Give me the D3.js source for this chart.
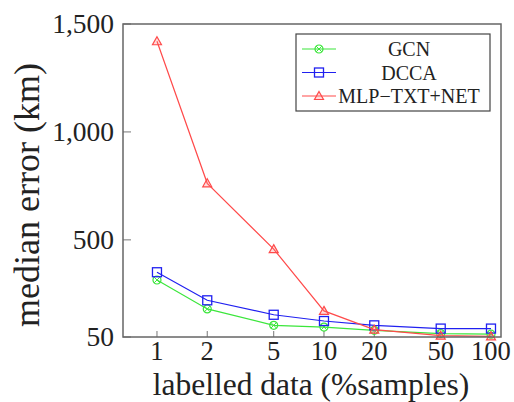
<!DOCTYPE html>
<html>
<head>
  <script src="https://d3js.org/d3.v7.min.js"></script>
  <style>
    body { margin: 0; background: #fff; }
    text { font-family: 'Liberation Serif', serif; fill: #222; }
  </style>
</head>
<body>
  <svg width="514" height="402"></svg>
<script>
  // data
  var xVals = [1, 2, 5, 10, 20, 50, 100];
  var gcn = [314, 180, 104, 96, 81, 66, 63];
  var dcca = [350, 220, 153, 124, 104, 89, 89];
  var mlp = [1420, 762, 457, 171, 84, 56, 53];
  var yTicks = [50, 500, 1000, 1500];
  var seriesNames = ["GCN", "DCCA", "MLP\u2212TXT+NET"];

  var svg = d3.select("svg");
  var pLeft = 123, pRight = 501, pTop = 24, pBottom = 337;

  // log x axis, padded a bit past 1 and 100 like pgfplots does
  var x = d3.scaleLog().domain([0.626, 114.8]).range([pLeft, pRight]);
  var y = d3.scaleLinear().domain([50, 1500]).range([pBottom, pTop]);

  var fmt = d3.format(",");

  // ticks
  var g = svg.append("g");
  g.selectAll(".xt").data(xVals).enter().append("line")
    .attr("x1", function (d) { return x(d); }).attr("x2", function (d) { return x(d); })
    .attr("y1", pBottom).attr("y2", pBottom - 6)
    .attr("stroke", "#777").attr("stroke-width", 1);
  g.selectAll(".yt").data(yTicks).enter().append("line")
    .attr("x1", pLeft).attr("x2", pLeft + 8)
    .attr("y1", function (d) { return y(d); }).attr("y2", function (d) { return y(d); })
    .attr("stroke", "#777").attr("stroke-width", 1);

  g.selectAll(".xl").data(xVals).enter().append("text")
    .attr("x", function (d) { return x(d); }).attr("y", pBottom + 23)
    .attr("text-anchor", "middle").attr("font-size", 26.5)
    .text(function (d) { return d; });
  g.selectAll(".yl").data(yTicks).enter().append("text")
    .attr("x", pLeft - 9).attr("y", function (d) { return y(d) + 9; })
    .attr("text-anchor", "end").attr("font-size", 27.5)
    .text(function (d) { return fmt(d); });

  svg.append("text").attr("x", 311).attr("y", 395)
    .attr("text-anchor", "middle").attr("font-size", 31.5)
    .text("labelled data (%samples)");
  svg.append("text").attr("transform", "translate(39,195) rotate(-90)")
    .attr("text-anchor", "middle").attr("font-size", 36)
    .text("median error (km)");

  // series
  var series = [
    { name: seriesNames[0], vals: gcn, color: "#3be63b", mark: "circ" },
    { name: seriesNames[1], vals: dcca, color: "#2020f0", mark: "sq" },
    { name: seriesNames[2], vals: mlp, color: "#ff4a4a", mark: "tri" }
  ];

  var line = d3.line().x(function (d) { return x(d[0]); }).y(function (d) { return y(d[1]); });

  function marker(sel, kind, color) {
    if (kind == "circ") {
      sel.append("circle").attr("r", 4).attr("fill", "none").attr("stroke", color).attr("stroke-width", 1.2);
      sel.append("path").attr("d", "M-2.8,-2.8L2.8,2.8M-2.8,2.8L2.8,-2.8").attr("stroke", color).attr("stroke-width", 1);
    } else if (kind == "sq") {
      sel.append("rect").attr("x", -4.5).attr("y", -4.5).attr("width", 9).attr("height", 9)
        .attr("fill", "none").attr("stroke", color).attr("stroke-width", 1.3);
    } else {
      sel.append("path").attr("d", "M0,-4.5L4.5,3.5L-4.5,3.5Z")
        .attr("fill", "rgba(255,120,120,0.25)").attr("stroke", color).attr("stroke-width", 1.2);
    }
  }

  var plot = svg.append("g");
  series.forEach(function (s) {
    var pts = xVals.map(function (v, i) { return [v, s.vals[i]]; });
    plot.append("path").datum(pts).attr("d", line)
      .attr("fill", "none").attr("stroke", s.color).attr("stroke-width", 1.2);
    pts.forEach(function (p) {
      var m = plot.append("g").attr("transform", "translate(" + x(p[0]) + "," + y(p[1]) + ")");
      marker(m, s.mark, s.color);
    });
  });

  // frame
  svg.append("rect").attr("x", pLeft).attr("y", pTop).attr("width", pRight - pLeft).attr("height", pBottom - pTop)
    .attr("fill", "none").attr("stroke", "#666").attr("stroke-width", 1.5);

  // legend
  var lg = svg.append("g").attr("transform", "translate(296,34)");
  lg.append("rect").attr("width", 194).attr("height", 77)
    .attr("fill", "#fff").attr("stroke", "#444").attr("stroke-width", 1.2);
  series.forEach(function (s, i) {
    var yy = 15 + i * 23.5;
    lg.append("line").attr("x1", 6).attr("x2", 40).attr("y1", yy).attr("y2", yy)
      .attr("stroke", s.color).attr("stroke-width", 1.2);
    var m = lg.append("g").attr("transform", "translate(23," + yy + ")");
    marker(m, s.mark, s.color);
    lg.append("text").attr("x", 113).attr("y", yy + 7)
      .attr("text-anchor", "middle").attr("font-size", 20)
      .text(s.name);
  });
</script>
</body>
</html>
